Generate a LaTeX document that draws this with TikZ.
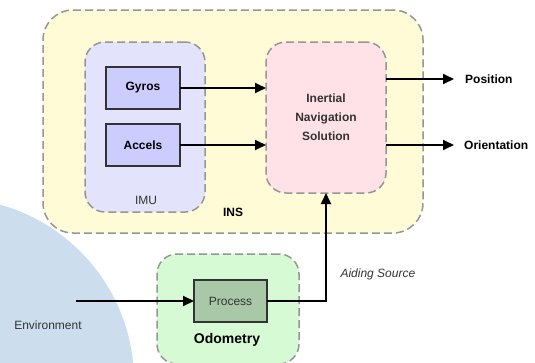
\documentclass[tikz,border=0pt]{standalone}
\usepackage{fontspec}
\setmainfont{Liberation Sans}
\usepackage{tikz}
\usetikzlibrary{arrows.meta,positioning,calc}
\usepackage{xcolor}
\definecolor{insyellow}{RGB}{255,251,214}
\definecolor{imublue}{RGB}{227,227,252}
\definecolor{sensorblue}{RGB}{204,204,255}
\definecolor{solpink}{RGB}{255,226,232}
\definecolor{odogreen}{RGB}{214,250,212}
\definecolor{procgreen}{RGB}{168,200,168}
\definecolor{envblue}{RGB}{204,222,238}
\definecolor{groupgray}{RGB}{150,150,150}
\definecolor{textgray}{RGB}{51,51,51}

\begin{document}
\begin{tikzpicture}[
    x=1pt, y=-1pt,
    font=\fontsize{12}{14}\selectfont,
    group/.style={draw=groupgray, line width=1.5pt, dash pattern=on 8pt off 4pt,
                  inner sep=0pt, outer sep=0pt},
    block/.style={draw=textgray, line width=1.3pt, inner sep=0pt, outer sep=0pt,
                  minimum width=74pt, minimum height=42pt},
    flow/.style={-{Triangle[length=11pt, width=10pt]}, line width=1.8pt},
    outlabel/.style={font=\fontsize{12}{14}\selectfont\bfseries, anchor=west, inner sep=0pt}
]
\useasboundingbox (0,0) rectangle (535,362);
\fill[envblue] (-49,381) circle (183pt);

\node[group, rounded corners=30pt, fill=insyellow,
      minimum width=380pt, minimum height=223pt] (ins) at (233,121.5) {};
\node[group, rounded corners=20pt, fill=imublue,
      minimum width=120pt, minimum height=170pt] (imu) at (145,127) {};
\node[group, rounded corners=20pt, fill=solpink,
      minimum width=120pt, minimum height=151pt] (inssol) at (326,117.5) {};
\node[group, rounded corners=20pt, fill=odogreen,
      minimum width=142pt, minimum height=110pt] (odo) at (228,309) {};

\node[block, fill=sensorblue, font=\fontsize{12}{14}\selectfont\bfseries] (gyros) at (143,88) {Gyros};
\node[block, fill=sensorblue, font=\fontsize{12}{14}\selectfont\bfseries] (accels) at (143,145) {Accels};
\node[block, fill=procgreen, text=textgray, minimum width=73pt] (process) at (230.5,301) {Process};

\node[font=\fontsize{12}{19}\selectfont\bfseries, text=textgray, align=center] (soltext) at (326,117)
    {Inertial\\Navigation\\Solution};
\node[text=textgray] (imulabel) at (146,200) {IMU};
\node[font=\fontsize{12}{14}\selectfont\bfseries] (inslabel) at (233,212) {INS};
\node[font=\fontsize{14}{16}\selectfont\bfseries] (odolabel) at (227,340) {Odometry};
\node[text=textgray] (envlabel) at (48,325) {Environment};
\node[text=textgray, font=\fontsize{12}{14}\selectfont\itshape, anchor=west] (aiding) at (337,274) {Aiding Source};
\node[outlabel] (position) at (465,79) {Position};
\node[outlabel] (orientation) at (464,145) {Orientation};

\coordinate (envstart) at (76,301);

\draw[flow] (gyros.east) -- (gyros.east -| inssol.west);
\draw[flow] (accels.east) -- (accels.east -| inssol.west);
\draw[flow, shorten >=11pt] (inssol.east |- position) -- (position.west);
\draw[flow, shorten >=10pt] (inssol.east |- orientation) -- (orientation.west);
\draw[flow] (envstart) -- (process.west);
\draw[flow] (process.east) -| (inssol.south);
\end{tikzpicture}
\end{document}
